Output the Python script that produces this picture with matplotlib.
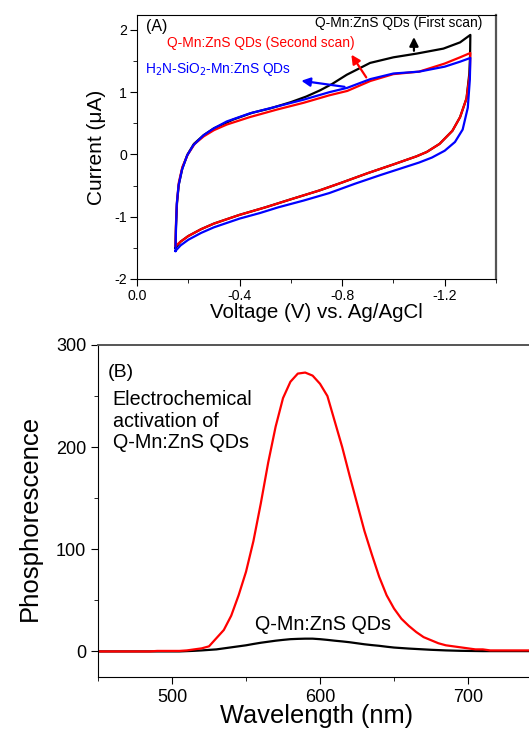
import numpy as np
import matplotlib
matplotlib.use('Agg')
import matplotlib.pyplot as plt
from matplotlib.ticker import MultipleLocator

plt.rcParams['font.family'] = ['Liberation Sans', 'DejaVu Sans']
plt.rcParams['axes.unicode_minus'] = False

# ---- (A) cyclic voltammetry ----
# first scan (black): forward branch then return branch
black_up_v = [-0.15, -0.152, -0.156, -0.163, -0.177, -0.197, -0.222, -0.26, -0.30, -0.375,
              -0.45, -0.52, -0.60, -0.66, -0.714, -0.76, -0.818, -0.909, -1.0, -1.091,
              -1.195, -1.26, -1.30]
black_up_i = [-1.50, -1.15, -0.78, -0.48, -0.22, 0.0, 0.17, 0.31, 0.42, 0.56,
              0.67, 0.74, 0.84, 0.93, 1.03, 1.13, 1.28, 1.47, 1.56, 1.62,
              1.70, 1.80, 1.92]
black_dn_v = [-1.30, -1.299, -1.296, -1.285, -1.26, -1.23, -1.18, -1.13, -1.09, -1.0,
              -0.90, -0.80, -0.71, -0.60, -0.50, -0.40, -0.30, -0.25, -0.20, -0.17, -0.15]
black_dn_i = [1.92, 1.60, 1.30, 0.90, 0.60, 0.38, 0.17, 0.04, -0.03, -0.16,
              -0.30, -0.45, -0.58, -0.72, -0.85, -0.97, -1.11, -1.20, -1.31, -1.40, -1.50]

# second scan (red)
red_up_v = [-0.15, -0.152, -0.156, -0.163, -0.177, -0.198, -0.225, -0.26, -0.30, -0.35,
            -0.44, -0.545, -0.65, -0.75, -0.82, -0.91, -1.0, -1.10, -1.20, -1.26, -1.30]
red_up_i = [-1.47, -1.10, -0.75, -0.45, -0.20, 0.0, 0.17, 0.29, 0.39, 0.48,
            0.60, 0.72, 0.83, 0.95, 1.02, 1.18, 1.29, 1.33, 1.46, 1.56, 1.63]
red_dn_v = [-1.30, -1.298, -1.285, -1.26, -1.23, -1.18, -1.13, -1.09, -1.0, -0.90,
            -0.80, -0.71, -0.60, -0.50, -0.40, -0.30, -0.25, -0.20, -0.17, -0.15]
red_dn_i = [1.63, 1.30, 0.90, 0.60, 0.38, 0.17, 0.04, -0.03, -0.16, -0.30,
            -0.45, -0.58, -0.72, -0.85, -0.97, -1.11, -1.20, -1.31, -1.40, -1.47]

# H2N-SiO2-Mn:ZnS (blue)
blue_up_v = [-0.15, -0.152, -0.155, -0.162, -0.175, -0.195, -0.22, -0.26, -0.30, -0.35,
             -0.44, -0.545, -0.65, -0.75, -0.82, -0.91, -1.0, -1.10, -1.20, -1.26, -1.30]
blue_up_i = [-1.55, -1.20, -0.80, -0.50, -0.25, -0.02, 0.15, 0.31, 0.42, 0.53,
             0.66, 0.77, 0.88, 1.00, 1.07, 1.21, 1.30, 1.33, 1.41, 1.49, 1.55]
blue_dn_v = [-1.30, -1.298, -1.29, -1.27, -1.24, -1.20, -1.15, -1.10, -1.04, -0.95,
             -0.85, -0.75, -0.65, -0.55, -0.48, -0.40, -0.30, -0.25, -0.20, -0.17, -0.15]
blue_dn_i = [1.55, 1.20, 0.75, 0.40, 0.20, 0.06, -0.05, -0.13, -0.21, -0.33,
             -0.47, -0.62, -0.74, -0.85, -0.94, -1.03, -1.17, -1.26, -1.37, -1.46, -1.55]

# ---- (B) phosphorescence spectra ----
wavelength = np.arange(450, 750, 5)
red_spec = [0, 0, 0, 0, 0, 0, 0, 0, 0.5, 0.5, 0.5, 0.5,
            1, 2, 3, 5, 13, 21, 35, 55, 78, 108, 145, 185,
            220, 248, 264, 272, 273, 270, 262, 250, 225, 200, 172, 145,
            118, 95, 73, 55, 42, 32, 25, 19, 14, 11, 8, 6,
            5, 4, 3, 2, 2, 1, 1, 1, 1, 1, 1, 1]
black_spec = [0, 0, 0, 0, 0, 0, 0, 0, 0, 0, 0, 0,
              0.3, 0.6, 1, 1.5, 2, 3, 4, 5, 6, 7.3, 8.5, 9.5,
              10.5, 11.3, 12, 12.3, 12.5, 12.5, 12, 11.3, 10.5, 9.8, 9, 8,
              7, 6.2, 5.5, 4.6, 3.8, 3.3, 2.8, 2.4, 2, 1.6, 1.3, 1,
              0.8, 0.6, 0.5, 0.4, 0.3, 0.3, 0.3, 0.3, 0.3, 0.3, 0.3, 0.3]

fig = plt.figure(figsize=(5.29, 7.34), dpi=100)

# ---------------- panel A ----------------
ax1 = fig.add_axes([0.259, 0.6199, 0.6786, 0.3597])
ax1.plot(black_up_v + black_dn_v, black_up_i + black_dn_i, color='black', lw=1.6)
ax1.plot(red_up_v + red_dn_v, red_up_i + red_dn_i, color='#ff0000', lw=1.6)
ax1.plot(blue_up_v + blue_dn_v, blue_up_i + blue_dn_i, color='#0000ff', lw=1.6)

ax1.set_xlim(0, -1.4)
ax1.set_ylim(-2, 2.24)
ax1.xaxis.set_minor_locator(MultipleLocator(0.2))
ax1.yaxis.set_major_locator(MultipleLocator(1))
ax1.yaxis.set_minor_locator(MultipleLocator(0.5))
ax1.set_xticks([0, -0.4, -0.8, -1.2])
ax1.set_xticklabels(['0.0', '-0.4', '-0.8', '-1.2'])
ax1.tick_params(which='both', direction='out', labelsize=10.2, top=False, right=False, pad=2)
ax1.tick_params(which='major', length=5)
ax1.tick_params(which='minor', length=3)
ax1.spines['right'].set_color('#555555')
ax1.spines['right'].set_linewidth(1.6)
ax1.set_xlabel('Voltage (V) vs. Ag/AgCl', fontsize=14.8, labelpad=0)
ax1.set_ylabel('Current (\u03bcA)', fontsize=15, labelpad=6)

ax1.text(0.025, 0.955, '(A)', transform=ax1.transAxes, fontsize=11.5, va='center')
ax1.text(-1.345, 2.11, 'Q-Mn:ZnS QDs (First scan)', fontsize=9.9, ha='right', va='center')
ax1.text(-0.116, 1.79, 'Q-Mn:ZnS QDs (Second scan)', fontsize=9.9, color='#ff0000', va='center')
ax1.text(-0.031, 1.37, 'H$_2$N-SiO$_2$-Mn:ZnS QDs', fontsize=9.9, color='#0000ff', va='center')

ax1.annotate('', xy=(-1.08, 1.93), xytext=(-1.08, 1.62),
             arrowprops=dict(arrowstyle='-|>', color='black', lw=1.6, mutation_scale=13))
ax1.annotate('', xy=(-0.83, 1.64), xytext=(-0.90, 1.2),
             arrowprops=dict(arrowstyle='-|>', color='#ff0000', lw=1.6, mutation_scale=13))
ax1.annotate('', xy=(-0.63, 1.19), xytext=(-0.82, 1.08),
             arrowprops=dict(arrowstyle='-|>', color='#0000ff', lw=1.6, mutation_scale=13))

# ---------------- panel B ----------------
ax2 = fig.add_axes([0.1853, 0.0777, 0.8253, 0.4523])
ax2.plot(wavelength, black_spec, color='black', lw=1.6)
ax2.plot(wavelength, red_spec, color='#ff0000', lw=1.6)
ax2.set_xlim(450, 745)
ax2.set_ylim(-25, 300)
ax2.xaxis.set_major_locator(MultipleLocator(100))
ax2.xaxis.set_minor_locator(MultipleLocator(50))
ax2.yaxis.set_major_locator(MultipleLocator(100))
ax2.yaxis.set_minor_locator(MultipleLocator(50))
ax2.tick_params(which='both', direction='out', labelsize=13, top=False, right=False)
ax2.tick_params(which='major', length=5)
ax2.tick_params(which='minor', length=3)
ax2.spines['top'].set_color('#555555')
ax2.spines['top'].set_linewidth(1.4)
ax2.set_xlabel('Wavelength (nm)', fontsize=18.3, labelpad=-1)
ax2.set_ylabel('Phosphorescence', fontsize=18.5)
ax2.yaxis.set_label_coords(-0.128, 0.48)

ax2.text(0.022, 0.916, '(B)', transform=ax2.transAxes, fontsize=14, va='center')
ax2.text(0.034, 0.771, 'Electrochemical\nactivation of\nQ-Mn:ZnS QDs', transform=ax2.transAxes,
         fontsize=14.2, va='center', linespacing=1.15)
ax2.text(602, 26, 'Q-Mn:ZnS QDs', fontsize=14.2, ha='center', va='center')

fig.savefig('out.png', dpi=100)
